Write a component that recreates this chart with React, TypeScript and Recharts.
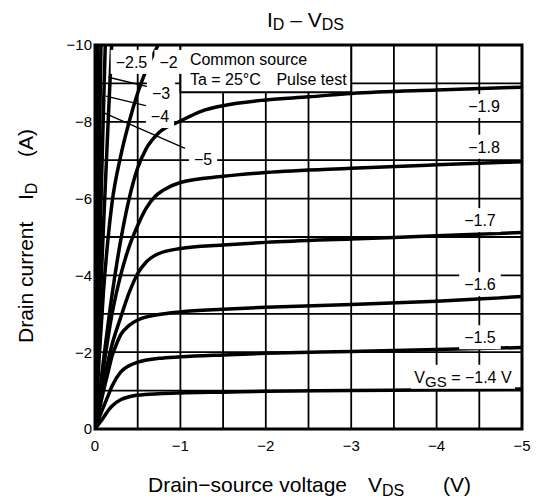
import React from 'react';
import {
  LineChart,
  Line,
  XAxis,
  YAxis,
  CartesianGrid,
  ReferenceArea,
  ReferenceLine,
  ReferenceDot,
} from 'recharts';

const FONT = '"Liberation Sans", Arial, Helvetica, sans-serif';

// Axis ticks (grid every 0.5 V / 1 A, labels on integers / even values)
const vdsTicks = [0, -0.5, -1, -1.5, -2, -2.5, -3, -3.5, -4, -4.5, -5];
const idTicks = [0, -1, -2, -3, -4, -5, -6, -7, -8, -9, -10];

// I_D (A) vs V_DS (V) for each V_GS
const vgsM14 = [
  { vds: 0, id: 0 }, { vds: -0.05, id: -0.15 }, { vds: -0.1, id: -0.3 }, { vds: -0.15, id: -0.47 },
  { vds: -0.2, id: -0.6 }, { vds: -0.3, id: -0.76 }, { vds: -0.4, id: -0.84 }, { vds: -0.5, id: -0.88 },
  { vds: -0.75, id: -0.92 }, { vds: -1, id: -0.94 }, { vds: -1.5, id: -0.96 }, { vds: -2, id: -0.98 },
  { vds: -3, id: -1.0 }, { vds: -4, id: -1.02 }, { vds: -5, id: -1.04 },
];
const vgsM15 = [
  { vds: 0, id: 0 }, { vds: -0.05, id: -0.3 }, { vds: -0.1, id: -0.58 }, { vds: -0.15, id: -0.85 },
  { vds: -0.2, id: -1.12 }, { vds: -0.3, id: -1.48 }, { vds: -0.4, id: -1.65 }, { vds: -0.5, id: -1.74 },
  { vds: -0.75, id: -1.84 }, { vds: -1, id: -1.88 }, { vds: -1.5, id: -1.93 }, { vds: -2, id: -1.97 },
  { vds: -3, id: -2.02 }, { vds: -4, id: -2.07 }, { vds: -5, id: -2.12 },
];
const vgsM16 = [
  { vds: 0, id: 0 }, { vds: -0.05, id: -0.5 }, { vds: -0.1, id: -1.0 }, { vds: -0.15, id: -1.45 },
  { vds: -0.2, id: -1.9 }, { vds: -0.25, id: -2.2 }, { vds: -0.3, id: -2.45 }, { vds: -0.4, id: -2.7 },
  { vds: -0.5, id: -2.84 }, { vds: -0.75, id: -2.98 }, { vds: -1, id: -3.05 }, { vds: -1.5, id: -3.12 },
  { vds: -2, id: -3.17 }, { vds: -3, id: -3.24 }, { vds: -4, id: -3.33 }, { vds: -5, id: -3.45 },
];
const vgsM17 = [
  { vds: 0, id: 0 }, { vds: -0.05, id: -0.6 }, { vds: -0.1, id: -1.2 }, { vds: -0.2, id: -2.2 },
  { vds: -0.3, id: -2.9 }, { vds: -0.4, id: -3.55 }, { vds: -0.5, id: -4.05 }, { vds: -0.6, id: -4.35 },
  { vds: -0.75, id: -4.57 }, { vds: -1, id: -4.7 }, { vds: -1.5, id: -4.79 }, { vds: -2, id: -4.86 },
  { vds: -3, id: -4.95 }, { vds: -4, id: -5.03 }, { vds: -5, id: -5.12 },
];
const vgsM18 = [
  { vds: 0, id: 0 }, { vds: -0.1, id: -1.6 }, { vds: -0.2, id: -3.0 }, { vds: -0.3, id: -4.0 },
  { vds: -0.4, id: -4.75 }, { vds: -0.5, id: -5.3 }, { vds: -0.6, id: -5.75 }, { vds: -0.7, id: -6.05 },
  { vds: -0.8, id: -6.22 }, { vds: -1, id: -6.42 }, { vds: -1.5, id: -6.58 }, { vds: -2, id: -6.68 },
  { vds: -3, id: -6.79 }, { vds: -4, id: -6.88 }, { vds: -5, id: -6.96 },
];
const vgsM19 = [
  { vds: 0, id: 0 }, { vds: -0.1, id: -1.8 }, { vds: -0.2, id: -3.5 }, { vds: -0.3, id: -4.9 },
  { vds: -0.4, id: -6.0 }, { vds: -0.5, id: -6.8 }, { vds: -0.6, id: -7.3 }, { vds: -0.75, id: -7.72 },
  { vds: -1, id: -8.02 }, { vds: -1.25, id: -8.28 }, { vds: -1.5, id: -8.42 }, { vds: -2, id: -8.57 },
  { vds: -2.5, id: -8.65 }, { vds: -3, id: -8.74 }, { vds: -4, id: -8.83 }, { vds: -5, id: -8.9 },
];
const vgsM20 = [
  { vds: 0, id: 0 }, { vds: -0.05, id: -1.9 }, { vds: -0.1, id: -3.6 }, { vds: -0.15, id: -4.9 },
  { vds: -0.2, id: -5.9 }, { vds: -0.3, id: -7.1 }, { vds: -0.4, id: -8.0 }, { vds: -0.5, id: -8.75 },
  { vds: -0.6, id: -9.35 }, { vds: -0.74, id: -10 },
];
const vgsM25 = [
  { vds: 0, id: 0 }, { vds: -0.05, id: -2.7 }, { vds: -0.1, id: -5.3 }, { vds: -0.15, id: -7.8 },
  { vds: -0.195, id: -10 },
];
const vgsM30 = [{ vds: 0, id: 0 }, { vds: -0.06, id: -5.1 }, { vds: -0.12, id: -10 }];
const vgsM40 = [{ vds: 0, id: 0 }, { vds: -0.035, id: -5.1 }, { vds: -0.07, id: -10 }];
const vgsM50 = [{ vds: 0, id: 0 }, { vds: -0.015, id: -5.0 }, { vds: -0.03, id: -10 }];

const curves = [vgsM14, vgsM15, vgsM16, vgsM17, vgsM18, vgsM19, vgsM20, vgsM25, vgsM30, vgsM40, vgsM50];

// Curve labels (text and anchor in data coordinates)
const curveLabels = [
  { text: '−2.5', vds: -0.427, id: -9.56 },
  { text: '−2', vds: -0.861, id: -9.56 },
  { text: '−3', vds: -0.773, id: -8.75 },
  { text: '−4', vds: -0.761, id: -8.15 },
  { text: '−5', vds: -1.265, id: -7.03 },
  { text: '−1.9', vds: -4.555, id: -8.41 },
  { text: '−1.8', vds: -4.555, id: -7.35 },
  { text: '−1.7', vds: -4.508, id: -5.44 },
  { text: '−1.6', vds: -4.508, id: -3.77 },
  { text: '−1.5', vds: -4.508, id: -2.39 },
];
const vgsLabel = { main: 'V', sub: 'GS', rest: ' = −1.4 V', vds: -4.309, id: -1.36 };

// Leader lines from labels to curves
const leaders = [
  { from: { vds: -0.703, id: -8.87 }, to: { vds: -0.156, id: -9.16 } },
  { from: { vds: -0.703, id: -8.36 }, to: { vds: -0.129, id: -8.67 } },
  { from: { vds: -1.054, id: -7.31 }, to: { vds: -0.078, id: -8.26 } },
];

const conditionLines = ['Common source', 'Ta = 25°C', 'Pulse test'];

const charW: Record<string, number> = { '−': 0.584, '.': 0.278, ' ': 0.278, '=': 0.584 };
const textWidth = (s: string, fs: number) =>
  s.split('').reduce((a, c) => a + (charW[c] ?? 0.556), 0) * fs;

const TagLabel = (props: any) => {
  const { viewBox, text } = props;
  const cx = viewBox.x + (viewBox.width || 0) / 2;
  const cy = viewBox.y + (viewBox.height || 0) / 2;
  const w = textWidth(text, 16) + 10;
  return (
    <g>
      <rect x={cx - w / 2} y={cy - 12} width={w} height={24} fill="#fff" />
      <text x={cx} y={cy} dy="0.36em" textAnchor="middle" fontSize={16} fontFamily={FONT} fill="#000">
        {text}
      </text>
    </g>
  );
};

const VgsLabel = (props: any) => {
  const { viewBox } = props;
  const cx = viewBox.x + (viewBox.width || 0) / 2;
  const cy = viewBox.y + (viewBox.height || 0) / 2;
  const w = 104;
  return (
    <g>
      <rect x={cx - w / 2} y={cy - 12} width={w} height={24} fill="#fff" />
      <text x={cx} y={cy} dy="0.36em" textAnchor="middle" fontSize={16} fontFamily={FONT} fill="#000" style={{ whiteSpace: 'pre' }}>
        {vgsLabel.main}
        <tspan dy={4} fontSize={15}>{vgsLabel.sub}</tspan>
        <tspan dy={-4} fontSize={16}>{vgsLabel.rest}</tspan>
      </text>
    </g>
  );
};

const ConditionLabel = (props: any) => {
  const { viewBox } = props;
  const x = viewBox.x;
  const y = viewBox.y;
  return (
    <text fontSize={16} fontFamily={FONT} fill="#000">
      <tspan x={x + 9.5} y={y + 20}>{conditionLines[0]}</tspan>
      <tspan x={x + 9.5} y={y + 40}>{conditionLines[1]}</tspan>
      <tspan x={x + 96} y={y + 40}>{conditionLines[2]}</tspan>
    </text>
  );
};

const fmtX = (v: number) => (Number.isInteger(v) ? (v === 0 ? '0' : '−' + Math.abs(v)) : '');
const fmtY = (v: number) => (Math.abs(v) % 2 === 0 ? (v === 0 ? '0' : '−' + Math.abs(v)) : '');

export default function App() {
  return (
    <div style={{ position: 'absolute', left: 0, top: 0, width: 537, height: 504, background: '#fff' }}>
      <LineChart width={537} height={504} margin={{ top: 45, right: 15, bottom: 45, left: 0 }}>
        <CartesianGrid stroke="#000" strokeWidth={1.8} strokeOpacity={1} />
        <XAxis
          dataKey="vds"
          type="number"
          domain={[-5, 0]}
          reversed
          ticks={vdsTicks}
          interval={0}
          tickFormatter={fmtX}
          axisLine={false}
          tickLine={false}
          tickSize={0}
          tickMargin={11}
          height={30}
          tick={{ fontSize: 15, fill: '#000', fontFamily: FONT }}
          allowDataOverflow
        />
        <YAxis
          type="number"
          domain={[-10, 0]}
          reversed
          ticks={idTicks}
          interval={0}
          tickFormatter={fmtY}
          axisLine={false}
          tickLine={false}
          tickSize={0}
          tickMargin={3}
          width={95}
          tick={{ fontSize: 15, fill: '#000', fontFamily: FONT }}
          allowDataOverflow
        />
        <ReferenceArea
          x1={-1}
          x2={-3}
          y1={-10}
          y2={-8.77}
          fill="#fff"
          fillOpacity={1}
          stroke="#000"
          strokeWidth={2}
          label={<ConditionLabel />}
        />
        {curves.map((c, i) => (
          <Line
            key={i}
            data={c}
            dataKey="id"
            type="monotone"
            stroke="#000"
            strokeWidth={3.5}
            dot={false}
            activeDot={false}
            isAnimationActive={false}
          />
        ))}
        {leaders.map((l, i) => (
          <ReferenceLine
            key={'l' + i}
            segment={[
              { x: l.from.vds, y: l.from.id },
              { x: l.to.vds, y: l.to.id },
            ]}
            stroke="#000"
            strokeWidth={1.3}
          />
        ))}
        <ReferenceArea x1={0} x2={-5} y1={0} y2={-10} fill="none" stroke="#000" strokeWidth={3} />
        {curveLabels.map((l, i) => (
          <ReferenceDot
            key={'d' + i}
            x={l.vds}
            y={l.id}
            r={0}
            fill="none"
            stroke="none"
            label={<TagLabel text={l.text} />}
          />
        ))}
        <ReferenceDot x={vgsLabel.vds} y={vgsLabel.id} r={0} fill="none" stroke="none" label={<VgsLabel />} />
      </LineChart>
      <svg
        width={537}
        height={504}
        style={{ position: 'absolute', left: 0, top: 0, pointerEvents: 'none' }}
      >
        <text x={267} y={27} fontSize={21} fontFamily={FONT} fill="#000" style={{ whiteSpace: 'pre' }}>
          I<tspan fontSize={16} dy={3}>D</tspan>
          <tspan fontSize={21} dy={-3}> – V</tspan>
          <tspan fontSize={16} dy={3}>DS</tspan>
        </text>
        <text y={492} fontSize={21} fontFamily={FONT} fill="#000">
          <tspan x={148}>Drain−source voltage</tspan>
        </text>
        <text x={368} y={492} fontSize={21} fontFamily={FONT} fill="#000">
          V<tspan fontSize={16} dy={4}>DS</tspan>
        </text>
        <text x={443} y={492} fontSize={21} fontFamily={FONT} fill="#000">(V)</text>
        <text transform="translate(33,343) rotate(-90)" fontSize={21} fontFamily={FONT} fill="#000">
          Drain current
        </text>
        <text transform="translate(33,200) rotate(-90)" fontSize={21} fontFamily={FONT} fill="#000">
          I<tspan fontSize={16} dy={4}>D</tspan>
        </text>
        <text transform="translate(33,157) rotate(-90)" fontSize={21} fontFamily={FONT} fill="#000">
          (A)
        </text>
      </svg>
    </div>
  );
}
